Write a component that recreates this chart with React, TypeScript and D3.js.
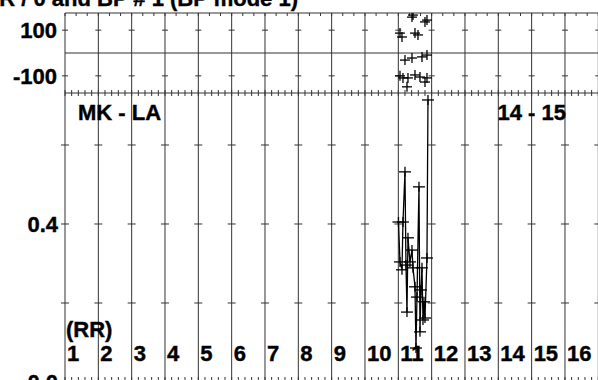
import React from "react";
import * as d3 from "d3";

const columns = ["1","2","3","4","5","6","7","8","9","10","11","12","13","14","15","16"];
const topTicks = [100, -100];
const topTickLabels = ["100", "-100"];
const bottomTicks = [0.2, 0.4, 0.6];
const bottomLabelTicks = [0.0, 0.4];
const bottomTickLabels = ["0.0", "0.4"];

// top panel scatter (position within RR axis, value)
const topX = [10.41, 10.44, 10.80, 10.86, 10.05, 10.11, 10.50, 10.59, 10.20, 10.41, 10.71, 10.86, 10.05, 10.14, 10.29, 10.50, 10.65, 10.86, 10.80, 10.26];
const topY = [157, 166, 136, 144, 87, 70, 87, 79, -31, -22, -17, -9, -100, -109, -109, -96, -105, -109, -127, -148];

// bottom panel line series
const botX = [10.005, 10.05, 10.11, 10.14, 10.20, 10.23, 10.26, 10.29, 10.35, 10.41, 10.44, 10.50, 10.53, 10.56, 10.62, 10.65, 10.68, 10.71, 10.74, 10.77, 10.80, 10.86, 10.89];
const botY = [0.405, 0.304, 0.284, 0.405, 0.532, 0.296, 0.177, 0.365, 0.304, 0.334, 0.289, 0.241, 0.086, 0.215, 0.494, 0.127, 0.233, 0.289, 0.157, 0.203, 0.162, 0.314, 0.714];

export default function App() {
  const W = 598, H = 380;
  const x = d3.scaleLinear().domain([0, 16]).range([65, 598.3]);
  const yT = d3.scaleLinear().domain([-175, 175]).range([93, 13]);
  const yB = d3.scaleLinear().domain([0, 0.7316]).range([382, 93]);
  const font = "'Liberation Sans', Arial, sans-serif";
  const gridColor = "#333";
  const cols = d3.range(0, 17);
  const minor = d3.range(0, 16 * 5 + 1).map((i) => i / 5);
  const minorTop = d3.range(0, 16 * 3 + 1).map((i) => i / 3);
  const line = d3.line<number>().x((i) => x(botX[i])).y((i) => yB(botY[i]));
  const idx = botX.map((_, i) => i);
  const txt = { fontFamily: font, fontWeight: "bold" as const, fontSize: 22, stroke: "#000", strokeWidth: 0.4 };

  return (
    <svg width={W} height={H} style={{ position: "absolute", left: 0, top: 0, background: "#fff" }}>
      <defs>
        <clipPath id="clipB"><rect x={65} y={93} width={540} height={289} /></clipPath>
        <clipPath id="clipT"><rect x={65} y={13} width={540} height={80} /></clipPath>
      </defs>
      <text x={298} y={6} textAnchor="end" {...txt}>RR / 0 and BP # 1 (BP mode 1)</text>

      {/* top panel */}
      <line x1={65} x2={W} y1={13} y2={13} stroke={gridColor} />
      <line x1={65} x2={W} y1={yT(0)} y2={yT(0)} stroke={gridColor} />
      <line x1={65} x2={W} y1={93} y2={93} stroke={gridColor} />
      {cols.map((c) => (
        <line key={"vt" + c} x1={x(c)} x2={x(c)} y1={13} y2={93} stroke={gridColor} />
      ))}
      {minorTop.map((m, i) => (
        <line key={"mt" + i} x1={x(m)} x2={x(m)} y1={13} y2={16} stroke={gridColor} />
      ))}
      {cols.map((c) => topTicks.map((t) => (
        <line key={"tt" + c + "_" + t} x1={x(c) - 3} x2={x(c) + 3} y1={yT(t)} y2={yT(t)} stroke={gridColor} />
      )))}
      {topTicks.map((t, i) => (
        <text key={"tl" + t} x={57} y={yT(t) + 8} textAnchor="end" {...txt}>{topTickLabels[i]}</text>
      ))}
      <g clipPath="url(#clipT)">
        {topX.map((v, i) => (
          <g key={"tp" + i} stroke="#000" strokeWidth={1.3}>
            <line x1={x(v) - 5} x2={x(v) + 5} y1={yT(topY[i])} y2={yT(topY[i])} />
            <line x1={x(v)} x2={x(v)} y1={yT(topY[i]) - 5} y2={yT(topY[i]) + 5} />
          </g>
        ))}
      </g>

      {/* bottom panel */}
      {minor.map((m, i) => (
        <line key={"mm" + i} x1={x(m)} x2={x(m)} y1={90} y2={96} stroke={gridColor} />
      ))}
      {minor.map((m, i) => (
        <line key={"mb" + i} x1={x(m)} x2={x(m)} y1={377} y2={382} stroke={gridColor} />
      ))}
      {cols.map((c) => (
        <line key={"vb" + c} x1={x(c)} x2={x(c)} y1={93} y2={382} stroke={gridColor} />
      ))}
      {cols.map((c) => bottomTicks.map((t) => (
        <line key={"bt" + c + "_" + t} x1={x(c) - 4} x2={x(c) + 4} y1={yB(t)} y2={yB(t)} stroke={gridColor} />
      )))}
      {bottomLabelTicks.map((t, i) => (
        <text key={"bl" + t} x={58} y={yB(t) + 8} textAnchor="end" {...txt}>{bottomTickLabels[i]}</text>
      ))}
      <text x={78} y={120} {...txt}>MK - LA</text>
      <text x={W - 32} y={120} textAnchor="end" {...txt}>14 - 15</text>
      <text x={66} y={337} {...txt}>(RR)</text>
      {columns.map((c, i) => (
        <text key={"cl" + i} x={x(i) + 2} y={361} {...txt}>{c}</text>
      ))}
      <g clipPath="url(#clipB)">
        <path d={line(idx) || ""} fill="none" stroke="#000" strokeWidth={1.3} />
        {botX.map((v, i) => (
          <g key={"bp" + i} stroke="#000" strokeWidth={1.3}>
            <line x1={x(v) - 6} x2={x(v) + 6} y1={yB(botY[i])} y2={yB(botY[i])} />
            <line x1={x(v)} x2={x(v)} y1={yB(botY[i]) - 5} y2={yB(botY[i]) + 5} />
          </g>
        ))}
      </g>
    </svg>
  );
}
